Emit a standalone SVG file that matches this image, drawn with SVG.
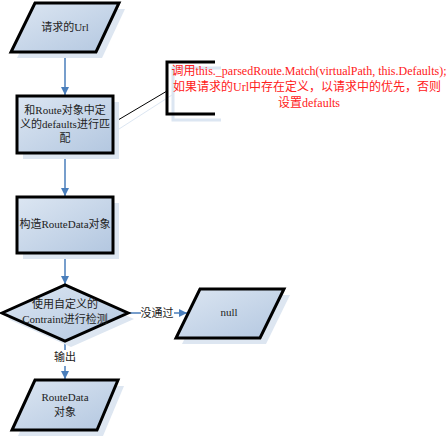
<svg xmlns="http://www.w3.org/2000/svg" width="447" height="437" viewBox="0 0 447 437">
<defs>
<linearGradient id="g" x1="0" y1="0" x2="1" y2="1">
<stop offset="0" stop-color="#dce6f2"/>
<stop offset="1" stop-color="#b3c7e0"/>
</linearGradient>
<marker id="ah" viewBox="0 0 10 10" refX="10" refY="5" markerWidth="8" markerHeight="8" markerUnits="userSpaceOnUse" orient="auto">
<path d="M0,0 L10,5 L0,10 z" fill="#4a7ebb"/>
</marker>
</defs>
<style>
.shape{fill:url(#g);stroke:#000;stroke-width:3;stroke-linejoin:miter}
.shadow{fill:#dde6f1;stroke:none}
.t{font-family:"Liberation Serif","Noto Sans CJK SC",serif;font-size:11px;fill:#222;text-anchor:middle;dominant-baseline:middle}
.red{fill:#ff2020;font-size:12px}
.c{stroke:#4a7ebb;stroke-width:1.5;fill:none}
</style>
<rect width="447" height="437" fill="#fff"/>
<g id="connectors">
<line class="c" x1="65" y1="53" x2="65" y2="95" marker-end="url(#ah)"/>
<line class="c" x1="65" y1="155" x2="65" y2="196" marker-end="url(#ah)"/>
<line class="c" x1="65" y1="255" x2="65" y2="284" marker-end="url(#ah)"/>
<line class="c" x1="129" y1="313" x2="141" y2="313"/>
<line class="c" x1="174" y1="313" x2="187" y2="313" marker-end="url(#ah)"/>
<text class="t" x="157" y="314">没通过</text>
<line class="c" x1="65" y1="342" x2="65" y2="350"/>
<line class="c" x1="65" y1="366" x2="65" y2="379" marker-end="url(#ah)"/>
<text class="t" x="65" y="358">输出</text>
<line x1="119" y1="129" x2="172" y2="95" stroke="#dce6f2" stroke-width="1"/>
<line x1="113" y1="123" x2="167" y2="91" stroke="#000" stroke-width="1"/>
</g>
<g id="n1">
<polygon class="shadow" points="41,9 125,9 102,58 17,58"/>
<polygon class="shape" points="35,3 119,3 96,52 11,52"/>
<text class="t" x="65" y="28">请求的Url</text>
</g>
<g id="n2">
<rect class="shadow" x="23" y="102" width="96" height="57"/>
<rect class="shape" x="17" y="96" width="96" height="57"/>
<text class="t" x="65" y="111">和Route对象中定</text>
<text class="t" x="65" y="125">义的defaults进行匹</text>
<text class="t" x="65" y="139">配</text>
</g>
<g id="note">
<path d="M221,68 H173 V120 H221" fill="none" stroke="#dce6f2" stroke-width="3"/>
<path d="M215,62 H167 V114 H215" fill="none" stroke="#000" stroke-width="3"/>
<text class="t red" x="309" y="72">调用this._parsedRoute.Match(virtualPath, this.Defaults);</text>
<text class="t red" x="307" y="88">如果请求的Url中存在定义，以请求中的优先，否则</text>
<text class="t red" x="309" y="104">设置defaults</text>
</g>
<g id="n3">
<rect class="shadow" x="23" y="203" width="96" height="56"/>
<rect class="shape" x="17" y="197" width="96" height="56"/>
<text class="t" x="65" y="225">构造RouteData对象</text>
</g>
<g id="n4">
<polygon class="shadow" points="8,319 71,291 134,319 71,347"/>
<polygon class="shape" points="2,313 65,285 128,313 65,341"/>
<text class="t" x="65" y="305">使用自定义的</text>
<text class="t" x="65" y="320">Contraint进行检测</text>
</g>
<g id="n5">
<polygon class="shadow" points="206,295 290,295 266,344 182,344"/>
<polygon class="shape" points="200,289 284,289 260,338 176,338"/>
<text class="t" x="229" y="313">null</text>
</g>
<g id="n6">
<polygon class="shadow" points="41,386 124,386 103,436 18,436"/>
<polygon class="shape" points="35,380 118,380 97,430 12,430"/>
<text class="t" x="65" y="398">RouteData</text>
<text class="t" x="65" y="413">对象</text>
</g>
</svg>
